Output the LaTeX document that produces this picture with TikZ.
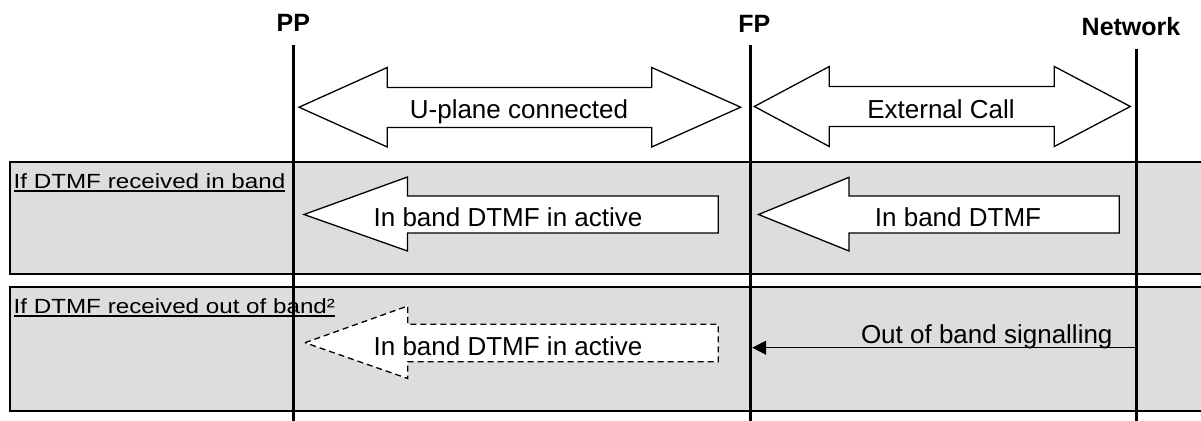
\documentclass[tikz,border=0pt]{standalone}
\usepackage{fontspec}
\setmainfont{Liberation Sans}
\newfontfamily\labfont[FakeStretch=1.18]{Liberation Sans}
\usetikzlibrary{arrows.meta,calc}
\definecolor{boxgray}{RGB}{221,221,221}
\begin{document}
\begin{tikzpicture}[x=1pt,y=-1pt,
  region/.style={draw=black, line width=1.2pt, fill=boxgray},
  lifeline/.style={line width=3pt},
  blockarrow/.style={draw=black, line width=1.3pt, fill=white, line join=miter},
  dashedarrow/.style={blockarrow, dash pattern=on 6pt off 4pt},
  head/.style={font=\fontsize{25}{30}\selectfont\bfseries, inner sep=0pt, anchor=base},
  msg/.style={font=\fontsize{26}{31}\selectfont, inner sep=0pt, anchor=base},
  cond/.style={font=\labfont\fontsize{20.5}{24}\selectfont, inner sep=0pt, anchor=base west},
  msgline/.style={line width=1.3pt, -{Triangle[length=14pt,width=14pt]}}]
\useasboundingbox (0,0) rectangle (1201,420);

% condition regions
\path[region] (10,162) rectangle (1215,274);
\path[region] (10,287) rectangle (1215,411);

\node[cond] (c1) at (13.5,188.3) {If DTMF received in band};
\draw[line width=1.3pt] ($(c1.base west)+(0,2.6)$) -- ($(c1.base east)+(0,2.6)$);
\node[cond] (c2) at (13.5,313.3) {If DTMF received out of band²};
\draw[line width=1.3pt] ($(c2.base west)+(0,2.6)$) -- ($(c2.base east)+(0,2.6)$);

% entities
\node[head] (pp) at (293.3,31.7) {PP};
\node[head] (fp) at (754.4,32.3) {FP};
\node[head] (nw) at (1131,36) {Network};

\coordinate (ppT) at (293.3,45);
\coordinate (ppB) at (293.3,421);
\coordinate (fpT) at (750.7,45);
\coordinate (fpB) at (750.7,421);
\coordinate (nwT) at (1136.7,49.3);
\coordinate (nwB) at (1136.7,421);
\draw[lifeline] (ppT) -- (ppB);
\draw[lifeline] (fpT) -- (fpB);
\draw[lifeline] (nwT) -- (nwB);

% U-plane connected (double block arrow)
\draw[blockarrow] (299,107.2) -- (387.3,67.5) -- (387.3,87.5) -- (651.7,87.5) -- (651.7,67.5)
  -- (740.7,107.2) -- (651.7,147) -- (651.7,127.5) -- (387.3,127.5) -- (387.3,147) -- cycle;
\node[msg] (up) at (519,118.3) {U-plane connected};

% External Call (double block arrow)
\draw[blockarrow] (754.3,106.5) -- (829.3,66.5) -- (829.3,86.5) -- (1054.3,86.5) -- (1054.3,66.5)
  -- (1130.3,106.5) -- (1054.3,146.5) -- (1054.3,126.5) -- (829.3,126.5) -- (829.3,146.5) -- cycle;
\node[msg] (ext) at (941,118) {External Call};

% In band DTMF in active (region 1)
\draw[blockarrow] (304,214.5) -- (407.5,177) -- (407.5,196) -- (718.3,196) -- (718.3,233)
  -- (407.5,233) -- (407.5,251) -- cycle;
\node[msg] (ib1) at (508,226) {In band DTMF in active};

% In band DTMF (region 1)
\draw[blockarrow] (758.5,214.5) -- (849,177.3) -- (849,196) -- (1119.3,196) -- (1119.3,233)
  -- (849,233) -- (849,251) -- cycle;
\node[msg] (ib2) at (958,226) {In band DTMF};

% In band DTMF in active (region 2, dashed)
\draw[dashedarrow] (305,342.7) -- (407.7,306) -- (407.7,324.3) -- (718.3,324.3) -- (718.3,361.7)
  -- (407.7,361.7) -- (407.7,378.5) -- cycle;
\node[msg] (ib3) at (508,355) {In band DTMF in active};

% Out of band signalling
\coordinate (nwO) at (1135.2,347.7);
\coordinate (fpO) at (752.2,347.7);
\draw[msgline] (nwO) -- (fpO);
\node[msg, anchor=base east] (ob) at (1112.7,343.3) {Out of band signalling};
\end{tikzpicture}
\end{document}
